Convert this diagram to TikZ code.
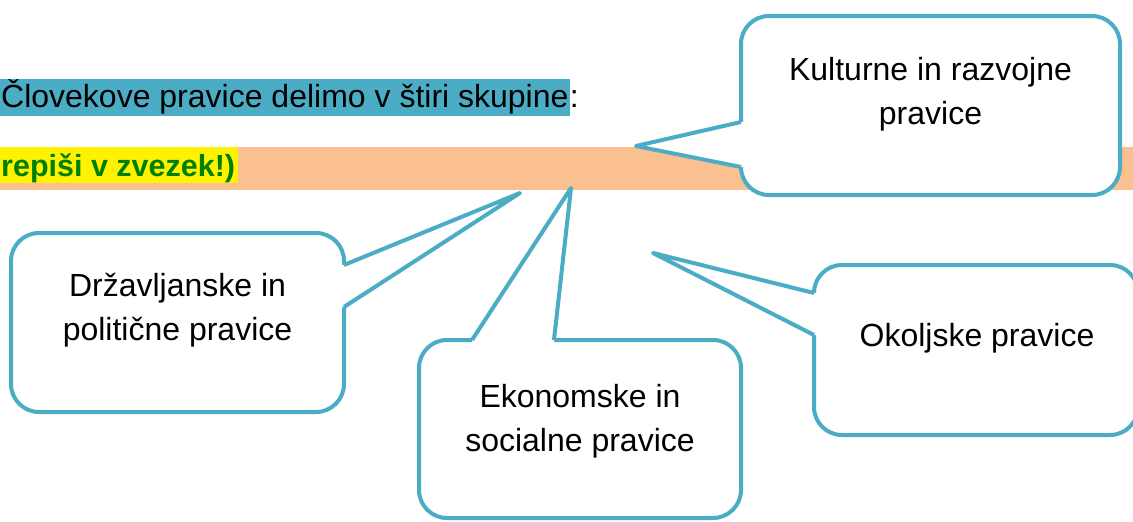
\documentclass[tikz,border=0pt]{standalone}
\usepackage{fontspec}
\setmainfont{Liberation Sans}
\usetikzlibrary{calc}
\definecolor{calloutblue}{RGB}{75,172,198}
\definecolor{bandorange}{RGB}{250,192,144}
\definecolor{notegreen}{RGB}{0,128,0}
\newcommand\bubblefont{\fontsize{32}{44}\selectfont}
\tikzset{
  bubble/.style={draw=calloutblue, line width=4pt, fill=white, rounded corners=28pt,
    inner sep=0pt, outer sep=0pt, anchor=north west},
  bubbletext/.style={font=\bubblefont, align=center, inner sep=0pt, anchor=north},
  tail/.style={draw=calloutblue, line width=4pt, line join=round},
}
\begin{document}
\begin{tikzpicture}[x=1pt,y=-1pt]
\clip (0,0) rectangle (1133,522);
\fill[white] (0,0) rectangle (1133,522);
% heading
\node[anchor=base west, fill=calloutblue, inner xsep=1pt, inner ysep=0pt, text height=28pt, text depth=9pt, font=\bubblefont] (title) at (0,107) {Človekove pravice delimo v štiri skupine};
\node[anchor=base west, inner sep=0pt, font=\bubblefont] (colon) at (title.base east) {:};
\fill[bandorange] (0,147) rectangle (1133,190);
\node[anchor=base west, fill=yellow, inner xsep=3pt, inner ysep=0pt, text height=29pt, text depth=7pt, text=notegreen, font=\bfseries\fontsize{30.5}{40}\selectfont] (note) at (-2,176) {repiši v zvezek!)};
% tips
\coordinate (kultTip) at (636,146);
\coordinate (drzTip) at (520,193);
\coordinate (ekoTip) at (571,188);
\coordinate (okoTip) at (653,253);
% Kulturne in razvojne
\node[bubble, minimum width=379pt, minimum height=179pt] (kult) at (741,16) {};
\coordinate (kultA) at ($(kult.north west)+(0,106)$);
\coordinate (kultB) at ($(kult.north west)+(0,151)$);
\fill[white] ($(kultA)+(4,0)$) -- (kultA) -- (kultTip) -- (kultB) -- ($(kultB)+(4,0)$) -- cycle;
\draw[tail] (kultA) -- (kultTip) -- (kultB);
\node[bubbletext] (kultText) at (930.5,57.5) {Kulturne in razvojne\\pravice};
% Drzavljanske in politicne
\node[bubble, minimum width=333pt, minimum height=179pt] (drz) at (11,233) {};
\coordinate (drzA) at ($(drz.north east)+(0,32)$);
\coordinate (drzB) at ($(drz.north east)+(0,74)$);
\fill[white] ($(drzA)+(-4,0)$) -- (drzA) -- (drzTip) -- (drzB) -- ($(drzB)+(-4,0)$) -- cycle;
\draw[tail] (drzA) -- (drzTip) -- (drzB);
\node[bubbletext] (drzText) at (177.5,273) {Državljanske in\\politične pravice};
% Ekonomske in socialne
\node[bubble, minimum width=322pt, minimum height=178pt] (eko) at (419,340) {};
\coordinate (ekoA) at ($(eko.north west)+(53,0)$);
\coordinate (ekoB) at ($(eko.north west)+(135,0)$);
\fill[white] ($(ekoA)+(0,4)$) -- (ekoA) -- (ekoTip) -- (ekoB) -- ($(ekoB)+(0,4)$) -- cycle;
\draw[tail] (ekoA) -- (ekoTip) -- (ekoB);
\node[bubbletext] (ekoText) at (580,384) {Ekonomske in\\socialne pravice};
% Okoljske
\node[bubble, minimum width=324pt, minimum height=170pt] (oko) at (814,265) {};
\coordinate (okoA) at ($(oko.north west)+(0,28)$);
\coordinate (okoB) at ($(oko.north west)+(0,70)$);
\fill[white] ($(okoA)+(4,0)$) -- (okoA) -- (okoTip) -- (okoB) -- ($(okoB)+(4,0)$) -- cycle;
\draw[tail] (okoA) -- (okoTip) -- (okoB);
\node[bubbletext] (okoText) at (977,323) {Okoljske pravice};
\end{tikzpicture}
\end{document}
